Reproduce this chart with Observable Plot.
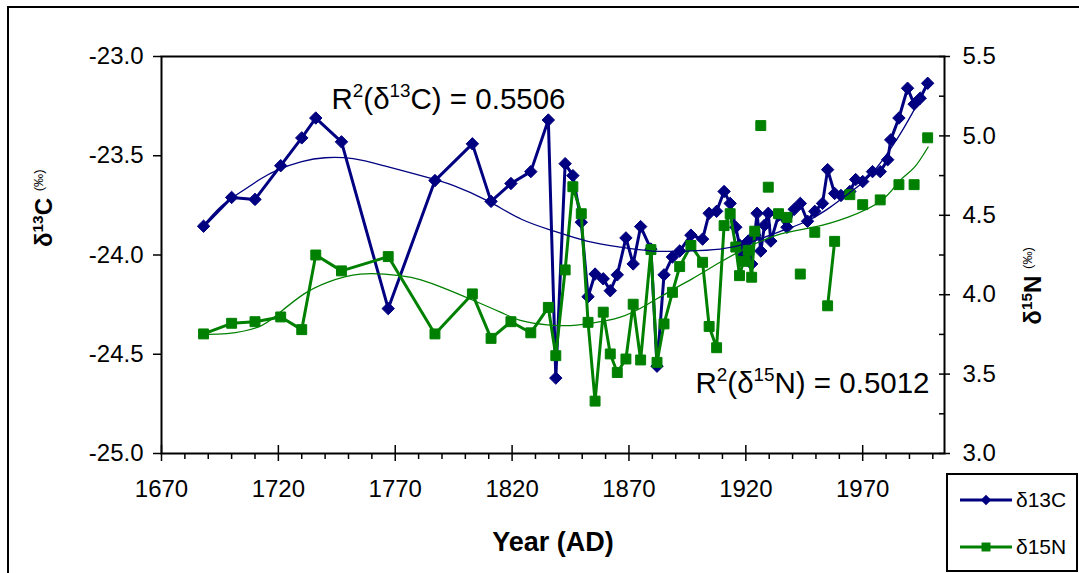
<!DOCTYPE html>
<html><head><meta charset="utf-8">
<script src="https://cdn.jsdelivr.net/npm/d3@7"></script>
<script src="https://cdn.jsdelivr.net/npm/@observablehq/plot@0.6"></script>
<style>
body{margin:0;background:#fff;font-family:"Liberation Sans",Arial,sans-serif;}
#wrap{position:relative;width:1079px;height:573px;overflow:hidden;background:#fff;}
#border{position:absolute;left:7px;top:6px;width:1100px;height:620px;border:2px solid #000;box-sizing:border-box;}
#chart{position:absolute;left:0;top:0;}
#legend{position:absolute;left:946px;top:473px;width:132px;height:99px;border:2px solid #000;box-sizing:border-box;background:#fff;}
#legend svg{position:absolute;left:-2px;top:-2px;}
</style></head><body>
<div id="wrap"><div id="border"></div><div id="chart"></div><div id="legend"></div></div>
<script>
// ---------- data ----------
const years = [1688,1700,1710,1721,1730,1736,1747,1767,1787,1803,1811,1819.5,1828,1835.5,1838.7,1842.7,1846,1849.6,1852.5,1855.5,1859,1862,1865,1868.7,1871.8,1875,1879.4,1882,1885,1888.6,1891.7,1896.5,1901.5,1904.3,1907.5,1910.7,1913.3,1915.7,1917.3,1919,1921,1922.5,1923.8,1924.8,1926.4,1928,1929.6,1930.7,1934,1937.6,1940.7,1943.3,1946.4,1949.5,1952.8,1955,1958,1960.7,1964.5,1967,1970,1974.2,1977.5,1980.7,1982,1985.5,1989.2,1992,1994.6,1997.8];
const d13C = [-23.855,-23.71,-23.72,-23.55,-23.41,-23.31,-23.43,-24.27,-23.625,-23.44,-23.73,-23.64,-23.58,-23.32,-24.62,-23.54,-23.60,-23.835,-24.21,-24.096,-24.12,-24.18,-24.10,-23.914,-24.045,-23.857,-23.97,-24.56,-24.10,-24.01,-23.98,-23.90,-23.92,-23.79,-23.78,-23.68,-23.74,-23.86,-23.95,-24.0,-23.93,-24.045,-23.90,-23.79,-23.98,-23.85,-23.79,-23.93,-23.80,-23.86,-23.77,-23.74,-23.83,-23.78,-23.74,-23.57,-23.69,-23.70,-23.68,-23.62,-23.63,-23.58,-23.58,-23.52,-23.42,-23.31,-23.16,-23.24,-23.21,-23.135];
const d15N = [3.753,3.82,3.83,3.86,3.78,4.25,4.15,4.24,3.753,4.005,3.725,3.83,3.76,3.92,3.616,4.156,4.68,4.51,3.826,3.33,3.89,3.627,3.51,3.595,3.94,3.589,4.284,3.574,3.816,4.015,4.177,4.31,4.204,3.80,3.666,4.435,4.51,4.30,4.12,4.21,4.28,4.11,4.40,null,5.065,null,4.677,null,4.51,4.487,null,4.13,null,4.393,null,3.93,4.336,null,4.63,null,4.567,null,4.597,null,null,4.693,null,4.693,null,4.988];

const trendCYears = [1688,1695,1703,1712,1720,1730,1740,1752,1765,1781,1795,1810,1824,1838,1852,1866,1880,1895,1909,1921,1935,1946,1956,1964,1971,1978,1985,1991,1998];
const trendC = [-23.85,-23.76,-23.69,-23.62,-23.57,-23.53,-23.51,-23.515,-23.55,-23.60,-23.65,-23.73,-23.82,-23.88,-23.93,-23.96,-23.98,-23.98,-23.97,-23.94,-23.88,-23.83,-23.76,-23.69,-23.625,-23.53,-23.41,-23.29,-23.14];
const trendNYears = [1688,1698,1711,1720,1731,1741,1755,1772,1781,1790,1802,1815,1824,1835,1845,1852,1866,1878,1888,1897,1909,1921,1935,1949,1963.5,1978,1986,1992,1998];
const trendN = [3.75,3.755,3.794,3.88,4.005,4.078,4.13,4.12,4.093,4.046,3.973,3.89,3.836,3.81,3.805,3.816,3.857,3.94,4.026,4.10,4.204,4.30,4.383,4.425,4.487,4.593,4.72,4.80,4.93];

const xTicks = [1670,1720,1770,1820,1870,1920,1970];
const xMinor = d3.range(1680,2005,10).filter(d => !xTicks.includes(d));
const cTicks = [-23,-23.5,-24,-24.5,-25];
const nTicks = [5.5,5,4.5,4,3.5,3];
const nMinor = [5.25,4.75,4.25,3.75,3.25];
const r2C = "R^{2}(δ^{13}C) = 0.5506";
const r2N = "R^{2}(δ^{15}N) = 0.5012";
const xTitle = "Year (AD)";
const yTitleL = "δ^{13}C ~{(‰)}";
const yTitleR = "δ^{15}N ~{(‰)}";
const seriesNames = ["δ13C","δ15N"];

// ---------- secondary axis mapping (δ15N 3.0–5.5 onto δ13C −25 – −23) ----------
const nToC = v => -25 + (v - 3) * (2 / 2.5);
const cToN = c => 3 + (c + 25) * 2.5 / 2;

const rows = years.map((y, i) => ({year: y, c: d13C[i], n: d15N[i]}));
const rowsN = rows.filter(d => d.n != null);
const trendCRows = trendCYears.map((y, i) => ({year: y, v: trendC[i]}));
const trendNRows = trendNYears.map((y, i) => ({year: y, v: nToC(trendN[i])}));

const BLUE = "#000080", GREEN = "#008000";
const W = 1079, H = 573, mL = 161, mR = 1079 - 944, mT = 56, mB = 573 - 453;
const PW = W - mL - mR, PH = H - mT - mB;

const chart = Plot.plot({
  width: W, height: H,
  marginLeft: mL, marginRight: mR, marginTop: mT, marginBottom: mB,
  style: {fontFamily: "'Liberation Sans', Arial, sans-serif", fontSize: "24px", background: "transparent", overflow: "visible", color: "#000"},
  x: {domain: [1670, 2005]},
  y: {domain: [-25, -23]},
  marks: [
    Plot.frame({stroke: "#000", strokeWidth: 2}),
    // x axis
    Plot.tickX(xTicks, {x: d => d, insetTop: PH - 8, insetBottom: -8, stroke: "#000", strokeWidth: 1.5}),
    Plot.tickX(xMinor, {x: d => d, insetTop: PH, insetBottom: -6, stroke: "#000", strokeWidth: 1.5}),
    Plot.axisX({ticks: xTicks, tickSize: 0, tickPadding: 26, tickFormat: d => String(d), label: null, fontSize: 24}),
    // left axis
    Plot.axisY({anchor: "left", ticks: cTicks, tickSize: 8, tickPadding: 10, tickFormat: d => d.toFixed(1), label: null, fontSize: 24, strokeWidth: 1.5}),
    // right axis
    Plot.tickY(nTicks.map(nToC), {y: d => d, insetLeft: PW - 5, insetRight: -6, stroke: "#000", strokeWidth: 1.5}),
    Plot.tickY(nMinor.map(nToC), {y: d => d, insetLeft: PW - 5, stroke: "#000", strokeWidth: 1.5}),
    Plot.axisY({anchor: "right", ticks: nTicks.map(nToC), tickSize: 0, tickPadding: 18, tickFormat: d => cToN(d).toFixed(1), label: null, fontSize: 24}),
    // δ13C series
    Plot.line(rows, {x: "year", y: "c", stroke: BLUE, strokeWidth: 3}),
    Plot.dot(rows, {x: "year", y: "c", symbol: "diamond2", r: 5.6, fill: BLUE, stroke: BLUE, strokeWidth: 1}),
    // δ15N series (gaps where missing)
    Plot.line(rows, {x: "year", y: d => d.n == null ? NaN : nToC(d.n), stroke: GREEN, strokeWidth: 3}),
    Plot.dot(rowsN, {x: "year", y: d => nToC(d.n), symbol: "square", r: 5.6, fill: GREEN, stroke: GREEN, strokeWidth: 1}),
    // trend lines
    Plot.line(trendCRows, {x: "year", y: "v", stroke: BLUE, strokeWidth: 1.3, curve: "natural"}),
    Plot.line(trendNRows, {x: "year", y: "v", stroke: GREEN, strokeWidth: 1.3, curve: "natural"}),
    // annotations
    Plot.text([r2C], {frameAnchor: "top-left", dx: 170, dy: 52, textAnchor: "start", lineAnchor: "bottom", fontSize: 29.5, fill: "#000"}),
    Plot.text([r2N], {frameAnchor: "top-left", dx: 534, dy: 336, textAnchor: "start", lineAnchor: "bottom", fontSize: 29.5, fill: "#000"}),
    // axis titles
    Plot.text([xTitle], {frameAnchor: "bottom", dy: 97, lineAnchor: "bottom", fontSize: 27, fontWeight: "bold", fill: "#000"}),
    Plot.text([yTitleL], {frameAnchor: "left", dx: -117, dy: -8, rotate: -90, fontSize: 24, fontWeight: "bold", fill: "#000"}),
    Plot.text([yTitleR], {frameAnchor: "right", dx: 89, dy: -8, rotate: -90, fontSize: 24, fontWeight: "bold", fill: "#000"})
  ]
});
document.getElementById("chart").appendChild(chart);

// superscripts: ^{..} raised, ~{..} raised & normal weight
function richify(root) {
  root.querySelectorAll("text").forEach(t => {
    const s = t.textContent;
    if (!/[\^~]\{/.test(s)) return;
    const fs = parseFloat(getComputedStyle(t).fontSize);
    while (t.firstChild) t.removeChild(t.firstChild);
    const parts = s.split(/([\^~]\{[^}]*\})/).filter(p => p.length);
    let raised = false;
    for (const p of parts) {
      const ts = document.createElementNS("http://www.w3.org/2000/svg", "tspan");
      const m = p.match(/^([\^~])\{([^}]*)\}$/);
      if (m) {
        ts.textContent = m[2];
        ts.setAttribute("font-size", (m[1] === "~" ? 0.55 : 0.64) * fs);
        if (!raised) ts.setAttribute("dy", -0.4 * fs);
        if (m[1] === "~") ts.setAttribute("font-weight", "normal");
        raised = true;
      } else {
        ts.textContent = p;
        if (raised) ts.setAttribute("dy", 0.4 * fs);
        raised = false;
      }
      t.appendChild(ts);
    }
  });
}
richify(chart);

// legend
const lg = d3.select("#legend").append("svg").attr("width", 132).attr("height", 99)
  .style("font-family", "'Liberation Sans', Arial, sans-serif");
const legItems = [{name: seriesNames[0], color: BLUE, sym: d3.symbolDiamond2, size: 70, y: 27},
                  {name: seriesNames[1], color: GREEN, sym: d3.symbolSquare, size: 80, y: 74}];
legItems.forEach(it => {
  lg.append("line").attr("x1", 14).attr("x2", 66).attr("y1", it.y).attr("y2", it.y)
    .attr("stroke", it.color).attr("stroke-width", 3);
  lg.append("path").attr("d", d3.symbol(it.sym, it.size)()).attr("transform", `translate(40,${it.y})`)
    .attr("fill", it.color);
  lg.append("text").attr("x", 70).attr("y", it.y + 7).attr("font-size", 21).text(it.name);
});
</script>
</body></html>
